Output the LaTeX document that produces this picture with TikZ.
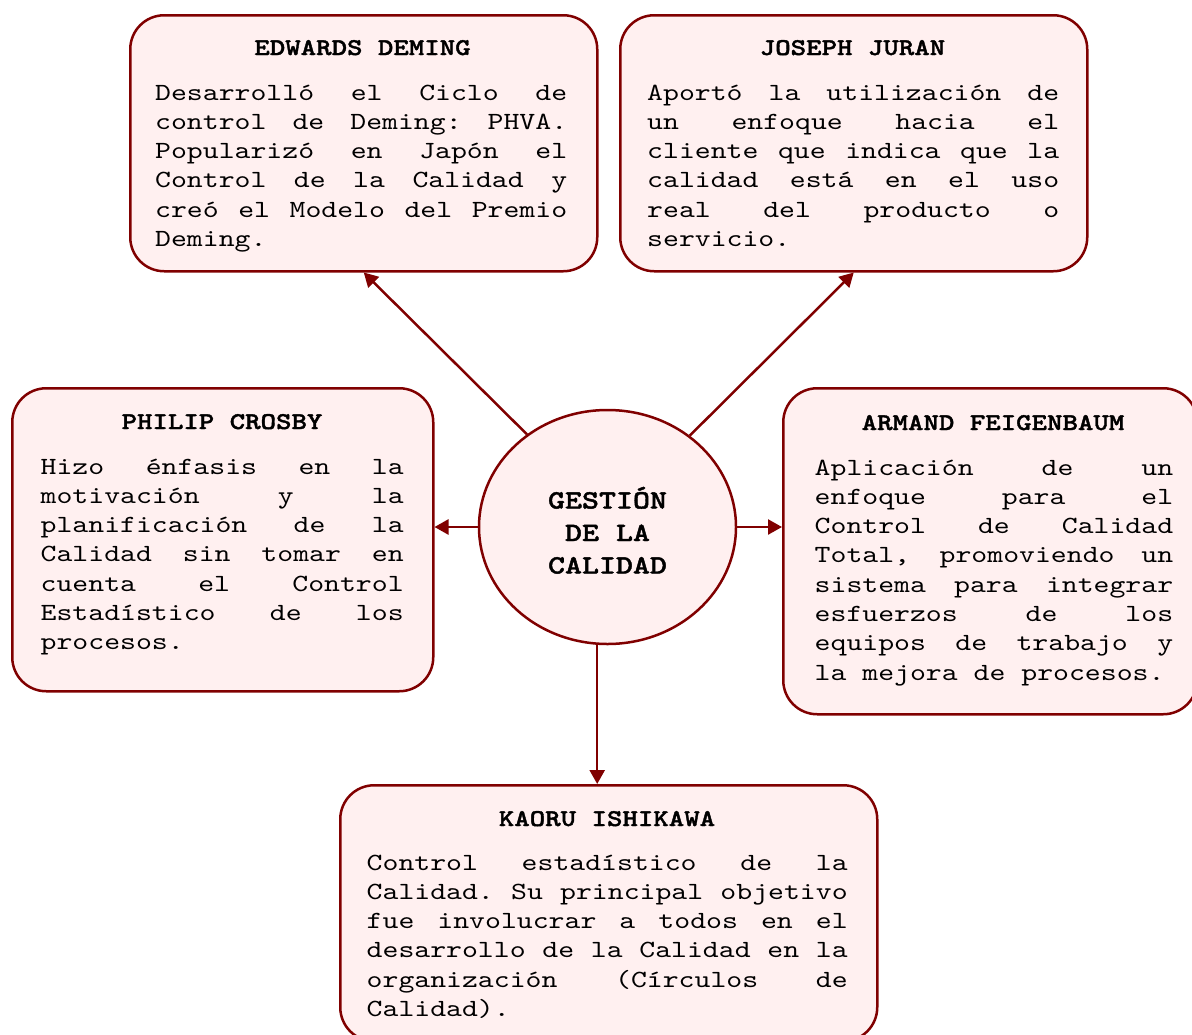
\documentclass[tikz,border=0pt]{standalone}
\usepackage{fontspec}
% a serif typewriter face, widened to Courier-like proportions
\setmonofont{lmmono10-regular}[Extension=.otf, BoldFont=lmmonolt10-bold,
  BoldFeatures={FakeBold=1.6}, FakeStretch=1.226]
\usetikzlibrary{arrows.meta,shapes.geometric}
\definecolor{edge}{HTML}{800000}
\definecolor{paper}{HTML}{FFF0F0}
% spaces exactly one typewriter cell wide (optionally stretchable)
\newcommand\cellspaces[1]{\setbox0\hbox{M}\spaceskip=\wd0 #1\relax\xspaceskip=\spaceskip}
% one fully justified line of a paragraph
\newcommand\jl[1]{\makebox[\linewidth][s]{\cellspaces{plus 1fil}#1}\\}
% the closing, left-aligned line of a paragraph
\newcommand\lastl[1]{\makebox[\linewidth][l]{\cellspaces{}#1}}
% a single line with cell-wide spaces
\newcommand\mono[1]{\mbox{\cellspaces{}#1}}
\tikzset{
  person/.style={draw=edge, fill=paper, line width=2.5pt, rounded corners=34pt,
                 inner sep=0pt, anchor=north west},
  hub/.style={ellipse, draw=edge, fill=paper, line width=2.5pt, inner sep=0pt,
              minimum width=257pt, minimum height=234pt},
  title/.style={font=\ttfamily\bfseries\fontsize{24}{29.3}\selectfont,
                anchor=base, inner sep=0pt},
  body/.style={font=\ttfamily\fontsize{24.7}{29.3}\selectfont,
               anchor=base west, inner sep=0pt, text width=#1},
  link/.style={draw=edge, line width=2.5pt, -{Triangle[length=14pt,width=15pt]}}
}
\begin{document}
\begin{tikzpicture}[x=1pt,y=-1pt]
\useasboundingbox (0,0) rectangle (1192,1034);
\fill[white] (0,0) rectangle (1192,1034);
\clip (0,0) rectangle (1192,1034);

% boxes
\node[person, minimum width=467pt, minimum height=256pt] (deming) at (129,14) {};
\node[person, minimum width=467pt, minimum height=256pt] (juran) at (619,14) {};
\node[person, minimum width=421pt, minimum height=303pt] (crosby) at (11,387) {};
\node[person, minimum width=414pt, minimum height=326pt] (feig) at (782,387) {};
\node[person, minimum width=537pt, minimum height=256pt] (ishi) at (339,784) {};
\node[hub] (gc) at (607.5,527) {};

% central label
\node[font=\ttfamily\bfseries\fontsize{26.4}{32.5}\selectfont,
      anchor=base, inner sep=0pt, text width=220pt, align=center]
      (gclabel) at (607.5,508.5) {GESTIÓN\\\mono{DE LA}\\CALIDAD};

% Deming
\node[title] (demingt) at (362.5,55) {\mono{EDWARDS DEMING}};
\node[body=412pt] (demingb) at (155,100) {%
\jl{Desarrolló el Ciclo de}%
\jl{control de Deming: PHVA.}%
\jl{Popularizó en Japón el}%
\jl{Control de la Calidad y}%
\jl{creó el Modelo del Premio}%
\lastl{Deming.}};

% Juran
\node[title] (jurant) at (852.5,55) {\mono{JOSEPH JURAN}};
\node[body=412pt] (juranb) at (647,100) {%
\jl{Aportó la utilización de}%
\jl{un enfoque hacia el}%
\jl{cliente que indica que la}%
\jl{calidad está en el uso}%
\jl{real del producto o}%
\lastl{servicio.}};

% Crosby
\node[title] (crosbyt) at (222,429) {\mono{PHILIP CROSBY}};
\node[body=363pt] (crosbyb) at (40.5,474) {%
\jl{Hizo énfasis en la}%
\jl{motivación y la}%
\jl{planificación de la}%
\jl{Calidad sin tomar en}%
\jl{cuenta el Control}%
\jl{Estadístico de los}%
\lastl{procesos.}};

% Feigenbaum
\node[title] (feigt) at (993,430) {\mono{ARMAND FEIGENBAUM}};
\node[body=358.5pt] (feigb) at (814.5,475) {%
\jl{Aplicación de un}%
\jl{enfoque para el}%
\jl{Control de Calidad}%
\jl{Total, promoviendo un}%
\jl{sistema para integrar}%
\jl{esfuerzos de los}%
\jl{equipos de trabajo y}%
\lastl{la mejora de procesos.}};

% Ishikawa
\node[title] (ishit) at (607,826) {\mono{KAORU ISHIKAWA}};
\node[body=481pt] (ishib) at (366.5,870) {%
\jl{Control estadístico de la}%
\jl{Calidad. Su principal objetivo}%
\jl{fue involucrar a todos en el}%
\jl{desarrollo de la Calidad en la}%
\jl{organización (Círculos de}%
\lastl{Calidad).}};

% connectors
\draw[link] (gc.131) -- (deming.south);
\draw[link] (gc.48.6) -- (juran.south);
\draw[link] (gc.west) -- (gc.west -| crosby.east);
\draw[link] (gc.east) -- (gc.east -| feig.west);
\draw[link] (gc.-95) -- (gc.-95 |- ishi.north);
\end{tikzpicture}
\end{document}
